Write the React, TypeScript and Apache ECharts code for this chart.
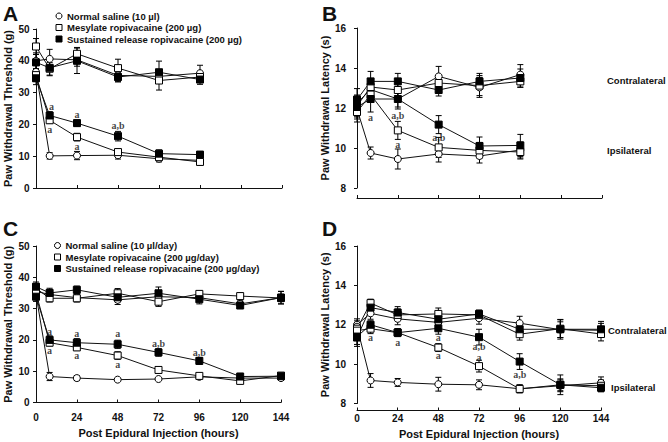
import React, { useEffect, useRef } from "react";
import * as echarts from "echarts";

const FONT = "'Liberation Sans', Arial, Helvetica, sans-serif";
const SERIF = "'Liberation Serif', 'Times New Roman', serif";

const hoursAB = [0, 8, 24, 48, 72, 96];
const hoursCD = [0, 8, 24, 48, 72, 96, 120, 144];

const legendA = ["Normal saline (10 µl)", "Mesylate ropivacaine (200 µg)", "Sustained release ropivacaine (200 µg)"];
const legendC = ["Normal saline (10 µl/day)", "Mesylate ropivacaine (200 µg/day)", "Sustained release ropivacaine (200 µg/day)"];
const groupNamesBD = ["Normal saline", "Mesylate ropivacaine", "Sustained release ropivacaine"];

// Panel A – mechanical threshold (g), single injection
const aContraSaline = [40.0, 40.6, 40.3, 35.4, 35.1, 36.1];
const aContraSalineErr = [2.5, 3.0, 2.0, 2.0, 2.0, 2.5];
const aContraMesylate = [44.5, 37.5, 42.2, 37.7, 33.8, 34.9];
const aContraMesylateErr = [2.5, 2.0, 2.0, 2.8, 3.0, 1.5];
const aContraSR = [39.5, 37.8, 40.0, 34.9, 36.4, 34.1];
const aContraSRErr = [2.5, 2.5, 4.0, 1.5, 3.5, 1.5];
const aIpsiSaline = [36.5, 10.1, 10.2, 10.3, 9.2, 8.7];
const aIpsiSalineErr = [2.0, 1.0, 1.3, 1.2, 1.0, 1.0];
const aIpsiMesylate = [35.5, 21.3, 16.0, 11.3, 9.7, 8.2];
const aIpsiMesylateErr = [2.0, 1.0, 1.2, 1.0, 1.0, 1.0];
const aIpsiSR = [34.5, 22.8, 20.4, 16.3, 10.8, 10.5];
const aIpsiSRErr = [2.0, 1.2, 1.0, 1.5, 1.2, 1.0];

// Panel B – thermal latency (s), single injection
const bContraSaline = [12.25, 12.92, 12.45, 13.58, 13.03, 13.67];
const bContraSalineErr = [0.4, 0.4, 0.4, 0.5, 0.5, 0.5];
const bContraMesylate = [12.1, 13.05, 12.9, 13.25, 13.12, 13.33];
const bContraMesylateErr = [0.5, 0.4, 0.35, 0.4, 0.5, 0.3];
const bContraSR = [12.42, 13.33, 13.33, 12.9, 13.33, 13.5];
const bContraSRErr = [0.55, 0.5, 0.4, 0.3, 0.4, 0.45];
const bIpsiSaline = [11.95, 9.75, 9.45, 9.7, 9.6, 9.9];
const bIpsiSalineErr = [0.5, 0.3, 0.5, 0.4, 0.35, 0.4];
const bIpsiMesylate = [11.8, 12.67, 10.88, 10.03, 9.88, 9.8];
const bIpsiMesylateErr = [0.5, 0.35, 0.45, 0.5, 0.4, 0.35];
const bIpsiSR = [12.05, 12.45, 12.45, 11.17, 10.1, 10.13];
const bIpsiSRErr = [0.5, 0.65, 0.5, 0.45, 0.45, 0.55];

// Panel C – mechanical threshold (g), daily injection
const cContraSaline = [35.5, 34.5, 33.5, 32.8, 33.8, 33.5, 31.5, 33.5];
const cContraSalineErr = [1.5, 1.5, 1.0, 1.5, 1.2, 1.2, 1.0, 2.0];
const cContraMesylate = [36.5, 33.3, 33.3, 34.9, 32.2, 34.7, 34.0, 33.4];
const cContraMesylateErr = [1.5, 1.2, 1.2, 1.5, 1.5, 1.0, 1.0, 1.2];
const cContraSR = [37.0, 35.0, 36.0, 33.6, 34.9, 33.0, 31.0, 33.5];
const cContraSRErr = [1.5, 1.5, 1.2, 1.5, 2.0, 1.5, 1.0, 2.0];
const cIpsiSaline = [34.5, 8.3, 7.8, 7.3, 7.5, 8.2, 7.8, 7.8];
const cIpsiSalineErr = [1.5, 1.3, 0.8, 0.5, 0.5, 0.6, 0.7, 0.6];
const cIpsiMesylate = [35.0, 19.1, 17.6, 15.0, 10.4, 8.5, 6.9, 8.6];
const cIpsiMesylateErr = [1.5, 1.0, 1.0, 1.2, 1.0, 0.8, 0.8, 0.8];
const cIpsiSR = [33.8, 20.0, 19.1, 18.6, 16.0, 13.3, 8.3, 8.4];
const cIpsiSRErr = [1.5, 1.3, 1.3, 1.3, 1.2, 1.1, 1.0, 0.8];

// Panel D – thermal latency (s), daily injection
const dContraSaline = [12.0, 12.58, 12.3, 12.12, 12.33, 12.08, 11.75, 11.72];
const dContraSalineErr = [0.3, 0.3, 0.3, 0.35, 0.3, 0.35, 0.4, 0.35];
const dContraMesylate = [11.8, 13.1, 12.5, 12.55, 12.5, 11.52, 11.8, 11.53];
const dContraMesylateErr = [0.3, 0.2, 0.3, 0.3, 0.2, 0.3, 0.45, 0.35];
const dContraSR = [11.35, 12.87, 12.62, 12.28, 12.55, 11.77, 11.77, 11.77];
const dContraSRErr = [0.45, 0.25, 0.3, 0.3, 0.2, 0.3, 0.5, 0.4];
const dIpsiSaline = [11.9, 9.17, 9.07, 8.98, 8.95, 8.75, 8.9, 9.05];
const dIpsiSalineErr = [0.3, 0.35, 0.2, 0.35, 0.25, 0.2, 0.3, 0.3];
const dIpsiMesylate = [11.7, 11.8, 11.6, 10.84, 9.9, 8.74, 8.95, 8.9];
const dIpsiMesylateErr = [0.3, 0.25, 0.2, 0.2, 0.3, 0.2, 0.3, 0.3];
const dIpsiSR = [11.4, 12.0, 11.6, 11.82, 11.37, 10.13, 8.95, 8.8];
const dIpsiSRErr = [0.4, 0.2, 0.2, 0.3, 0.4, 0.4, 0.5, 0.2];

// Significance annotations: [hour, value, text]
const annA: [number, number, string][] = [
  [9, 25.5, "a"], [8, 18.5, "a"], [24, 23, "a"], [24, 13.2, "a"], [48, 19.5, "a,b"],
];
const annB: [number, number, string][] = [
  [8, 11.55, "a"], [24, 11.65, "a,b"], [24, 10.2, "a"], [48, 10.55, "a,b"],
];
const annC: [number, number, string][] = [
  [8, 22.8, "a"], [8, 16.5, "a"], [24, 22.2, "a"], [24, 14.9, "a"],
  [48, 22.2, "a"], [48, 12.3, "a"], [72, 19, "a,b"], [96, 16.1, "a,b"],
];
const annD: [number, number, string][] = [
  [8, 11.33, "a"], [24, 11.08, "a"], [48, 11.33, "a"], [48, 10.42, "a"],
  [72, 10.9, "a,b"], [72, 10.35, "a"], [96, 9.46, "a,b"],
];

const SYMBOLS = ["circle", "rect", "rect"];
const FILLED = [false, false, true];

function lineSeries(name: string, g: number, hours: number[], values: number[], xi: number) {
  return {
    type: "line",
    name,
    xAxisIndex: xi,
    yAxisIndex: xi,
    data: hours.map((h, i) => [h, values[i]]),
    symbol: SYMBOLS[g],
    symbolSize: 7,
    showSymbol: true,
    lineStyle: { color: "#111", width: 1 },
    itemStyle: { color: FILLED[g] ? "#000" : "#fff", borderColor: "#000", borderWidth: 1 },
    z: 3,
    silent: true,
    emphasis: { disabled: true },
  };
}

function errSeries(hours: number[], values: number[], errs: number[], xi: number) {
  return {
    type: "custom",
    xAxisIndex: xi,
    yAxisIndex: xi,
    data: hours.map((h, i) => [h, values[i] - errs[i], values[i] + errs[i]]),
    encode: { x: 0, y: [1, 2] },
    renderItem: (_p: any, api: any) => {
      const lo = api.coord([api.value(0), api.value(1)]);
      const hi = api.coord([api.value(0), api.value(2)]);
      const c = 3;
      const st = { stroke: "#000", lineWidth: 1 };
      return {
        type: "group",
        children: [
          { type: "line", shape: { x1: lo[0], y1: lo[1], x2: hi[0], y2: hi[1] }, style: st },
          { type: "line", shape: { x1: hi[0] - c, y1: hi[1], x2: hi[0] + c, y2: hi[1] }, style: st },
          { type: "line", shape: { x1: lo[0] - c, y1: lo[1], x2: lo[0] + c, y2: lo[1] }, style: st },
        ],
      };
    },
    z: 2,
    silent: true,
  };
}

function annSeries(list: [number, number, string][], xi: number) {
  return {
    type: "scatter",
    xAxisIndex: xi,
    yAxisIndex: xi,
    symbolSize: 1,
    itemStyle: { color: "rgba(0,0,0,0)" },
    data: list.map(([x, y, t]) => ({ value: [x, y], name: t })),
    label: {
      show: true,
      position: "inside",
      formatter: "{b}",
      fontFamily: SERIF,
      fontWeight: "bold",
      fontSize: 10,
      color: "#111",
      textBorderWidth: 0,
      textBorderColor: "transparent",
    },
    z: 5,
    silent: true,
  };
}

function panel(
  xi: number,
  hours: number[],
  names: string[],
  contra: number[][],
  contraErr: number[][],
  ipsi: number[][],
  ipsiErr: number[][],
  ann: [number, number, string][]
) {
  const out: any[] = [];
  for (let g = 0; g < 3; g++) {
    out.push(errSeries(hours, contra[g], contraErr[g], xi));
    out.push(errSeries(hours, ipsi[g], ipsiErr[g], xi));
  }
  for (let g = 0; g < 3; g++) {
    out.push(lineSeries(names[g], g, hours, contra[g], xi));
    out.push(lineSeries(names[g], g, hours, ipsi[g], xi));
  }
  out.push(annSeries(ann, xi));
  return out;
}

const axisText = { color: "#111", fontFamily: FONT, fontWeight: "bold", fontSize: 10 };
const nameText = { color: "#111", fontFamily: FONT, fontWeight: "bold", fontSize: 11 };

function xAxis(gi: number, showLabel: boolean, offset: number) {
  return {
    type: "value",
    gridIndex: gi,
    min: 0,
    max: 144,
    interval: 24,
    offset,
    axisLine: { show: true, lineStyle: { color: "#111", width: 1 } },
    axisTick: { show: true, inside: true, length: 3, lineStyle: { color: "#111", width: 1 } },
    axisLabel: { show: showLabel, margin: 3, ...axisText },
    splitLine: { show: false },
    name: showLabel ? "Post Epidural Injection (hours)" : "",
    nameLocation: "middle",
    nameGap: 18,
    nameTextStyle: nameText,
  };
}

function yAxis(gi: number, min: number, max: number, interval: number, name: string, offset: number, gap: number) {
  return {
    type: "value",
    gridIndex: gi,
    min,
    max,
    interval,
    offset,
    axisLine: { show: true, lineStyle: { color: "#111", width: 1 } },
    axisTick: { show: true, length: 3, lineStyle: { color: "#111", width: 1 } },
    axisLabel: { margin: 3, ...axisText },
    splitLine: { show: false },
    name,
    nameLocation: "middle",
    nameGap: gap,
    nameTextStyle: nameText,
  };
}

function legend(names: string[], left: number, top: number) {
  return {
    orient: "vertical",
    left,
    top,
    padding: 0,
    itemWidth: 6,
    itemHeight: 6,
    itemGap: 0.5,
    selectedMode: false,
    textStyle: { color: "#111", fontFamily: FONT, fontWeight: "bold", fontSize: 9.5, lineHeight: 11 },
    data: names.map((n, g) => ({
      name: n,
      icon: SYMBOLS[g],
      itemStyle: { color: FILLED[g] ? "#000" : "#fff", borderColor: "#000", borderWidth: 1 },
    })),
  };
}

function letter(text: string, x: number, y: number) {
  return {
    type: "text",
    left: x,
    top: y,
    style: { text, fontFamily: FONT, fontWeight: "bold", fontSize: 21, fill: "#111" },
  };
}
function sideLabel(text: string, x: number, y: number) {
  return {
    type: "text",
    x,
    y,
    style: { text, fontFamily: FONT, fontWeight: "bold", fontSize: 9.5, fill: "#111", textVerticalAlign: "middle" },
  };
}

export default function App() {
  const ref = useRef<HTMLDivElement>(null);
  useEffect(() => {
    if (!ref.current) return;
    const chart = echarts.init(ref.current, undefined, { renderer: "svg" });
    const option = {
      animation: false,
      backgroundColor: "#fff",
      grid: [
        { left: 36, top: 29, width: 246, height: 159 },
        { left: 357, top: 28, width: 245, height: 160 },
        { left: 36, top: 246, width: 245, height: 156.5 },
        { left: 357, top: 246, width: 244, height: 157.5 },
      ],
      xAxis: [xAxis(0, false, 10), xAxis(1, false, 10), xAxis(2, true, 7), xAxis(3, true, 7)],
      yAxis: [
        yAxis(0, 0, 50, 10, "Paw Withdrawal Threshold (g)", 3.5, 19),
        yAxis(1, 8, 16, 2, "Paw Withdrawal Latency (s)", 8, 17),
        yAxis(2, 0, 50, 10, "Paw Withdrawal Threshold (g)", 3.5, 19),
        yAxis(3, 8, 16, 2, "Paw Withdrawal Latency (s)", 8, 17),
      ],
      legend: [legend(legendA, 55.5, 10.5), legend(legendC, 54, 240)],
      graphic: [
        letter("A", 3, 3),
        letter("B", 322, 3),
        letter("C", 3, 218),
        letter("D", 322, 218),
        sideLabel("Contralateral", 607, 80),
        sideLabel("Ipsilateral", 607, 150),
        sideLabel("Contralateral", 608, 330),
        sideLabel("Ipsilateral", 611, 387),
      ],
      series: [
        ...panel(0, hoursAB, legendA,
          [aContraSaline, aContraMesylate, aContraSR], [aContraSalineErr, aContraMesylateErr, aContraSRErr],
          [aIpsiSaline, aIpsiMesylate, aIpsiSR], [aIpsiSalineErr, aIpsiMesylateErr, aIpsiSRErr], annA),
        ...panel(1, hoursAB, groupNamesBD.map((n) => "B " + n),
          [bContraSaline, bContraMesylate, bContraSR], [bContraSalineErr, bContraMesylateErr, bContraSRErr],
          [bIpsiSaline, bIpsiMesylate, bIpsiSR], [bIpsiSalineErr, bIpsiMesylateErr, bIpsiSRErr], annB),
        ...panel(2, hoursCD, legendC,
          [cContraSaline, cContraMesylate, cContraSR], [cContraSalineErr, cContraMesylateErr, cContraSRErr],
          [cIpsiSaline, cIpsiMesylate, cIpsiSR], [cIpsiSalineErr, cIpsiMesylateErr, cIpsiSRErr], annC),
        ...panel(3, hoursCD, groupNamesBD.map((n) => "D " + n),
          [dContraSaline, dContraMesylate, dContraSR], [dContraSalineErr, dContraMesylateErr, dContraSRErr],
          [dIpsiSaline, dIpsiMesylate, dIpsiSR], [dIpsiSalineErr, dIpsiMesylateErr, dIpsiSRErr], annD),
      ],
    };
    chart.setOption(option as any);
    return () => chart.dispose();
  }, []);
  return (
    <div
      ref={ref}
      style={{ position: "fixed", left: 0, top: 0, width: 668, height: 442, background: "#fff" }}
    />
  );
}
